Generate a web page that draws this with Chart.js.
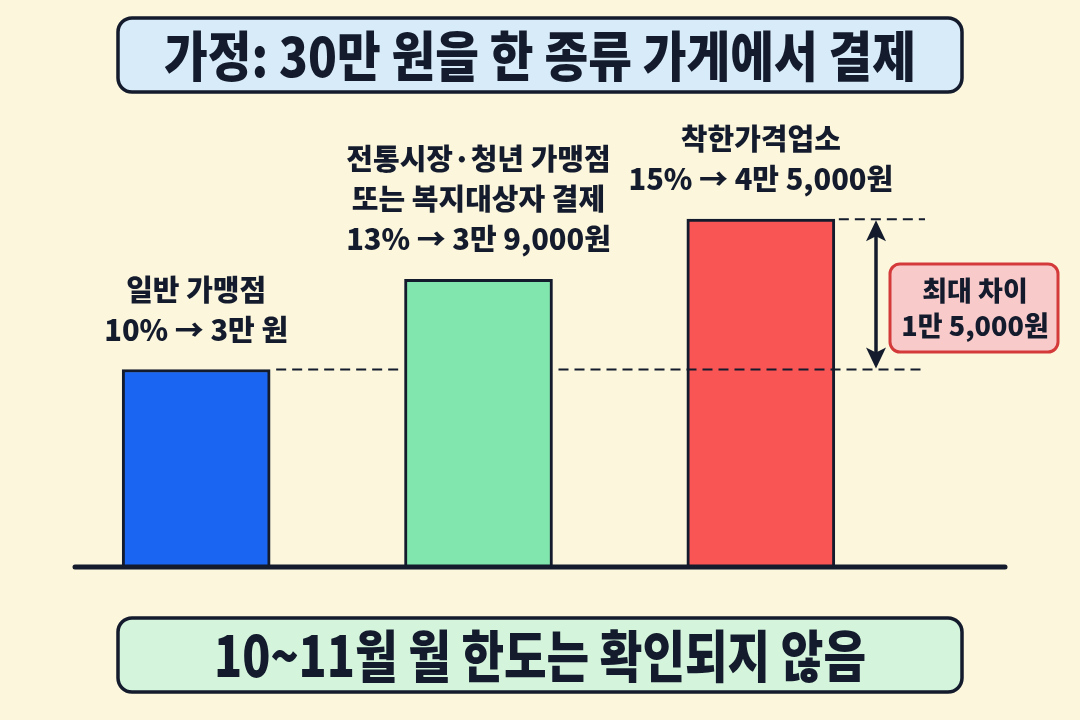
<!DOCTYPE html>
<html>
<head>
<meta charset="utf-8">
<script src="https://cdn.jsdelivr.net/npm/chart.js@4"></script>
<style>
  body { margin: 0; background: #fbf6dc; }
  canvas { display: block; }
</style>
</head>
<body>
<canvas id="chart" width="1080" height="720"></canvas>
<script>
// data (amounts in won, on a 30만 원 spend)
const categories = ['일반 가맹점', '전통시장·청년 가맹점 또는 복지대상자 결제', '착한가격업소'];
const labelLines = [
    ['일반 가맹점', '10% → 3만 원'],
    ['전통시장·청년 가맹점', '또는 복지대상자 결제', '13% → 3만 9,000원'],
    ['착한가격업소', '15% → 4만 5,000원']
];
const rates = [10, 13, 15];
const amounts = [30000, 39000, 45000];
const barColors = ['#1a66f2', '#80e6ad', '#fa5555'];

const titleText = '가정: 30만 원을 한 종류 가게에서 결제';
const footText = '10~11월 월 한도는 확인되지 않음';
const diffLines = ['최대 차이', '1만 5,000원'];

const ink = '#131b2c';
const fontName = "'Noto Sans CJK KR', 'Noto Sans', sans-serif";

function roundBox(ctx, x, y, w, h, r, fill, stroke, lw) {
    ctx.beginPath();
    ctx.roundRect(x, y, w, h, r);
    ctx.fillStyle = fill;
    ctx.fill();
    ctx.lineWidth = lw;
    ctx.strokeStyle = stroke;
    ctx.stroke();
}

const backgroundPlugin = {
    id: 'bg',
    beforeDraw(chart) {
        const ctx = chart.ctx;
        ctx.save();
        ctx.fillStyle = '#fbf6dc';
        ctx.fillRect(0, 0, chart.width, chart.height);
        ctx.restore();
    }
};

const decorPlugin = {
    id: 'decor',
    afterDatasetsDraw(chart) {
        const ctx = chart.ctx;
        const yScale = chart.scales.y;
        const bars = chart.getDatasetMeta(0).data;
        const area = chart.chartArea;
        ctx.save();

        // title box
        roundBox(ctx, 118, 18, 844, 74, 14, '#d7ebf8', ink, 3.5);
        ctx.fillStyle = ink;
        ctx.textAlign = 'center';
        ctx.textBaseline = 'middle';
        ctx.font = '900 54px ' + fontName;
        ctx.fillText(titleText, 540, 56, 752);

        // footer box
        roundBox(ctx, 118, 618, 844, 74, 14, '#d4f5dc', ink, 3.5);
        ctx.fillStyle = ink;
        ctx.font = '900 56px ' + fontName;
        ctx.fillText(footText, 540, 656, 652);

        // baseline
        ctx.beginPath();
        ctx.moveTo(75, area.bottom);
        ctx.lineTo(1005, area.bottom);
        ctx.lineWidth = 5;
        ctx.strokeStyle = ink;
        ctx.lineCap = 'round';
        ctx.stroke();
        ctx.lineCap = 'butt';

        // labels above bars
        ctx.font = '900 29px ' + fontName;
        ctx.fillStyle = ink;
        bars.forEach((bar, i) => {
            const lines = labelLines[i];
            lines.forEach((line, j) => {
                const y = bar.y - 40 - (lines.length - 1 - j) * 40;
                ctx.fillText(line, bar.x, y);
            });
        });

        // dashed reference lines
        const yLow = yScale.getPixelForValue(amounts[0]);
        const yHigh = yScale.getPixelForValue(amounts[2]);
        const half = bars[0].width / 2;
        ctx.setLineDash([10, 6]);
        ctx.lineWidth = 2;
        ctx.strokeStyle = ink;
        ctx.beginPath();
        ctx.moveTo(bars[0].x + half + 6, yLow);
        ctx.lineTo(bars[1].x - half - 4, yLow);
        ctx.moveTo(bars[1].x + half + 6, yLow);
        ctx.lineTo(925, yLow);
        ctx.moveTo(bars[2].x + half + 4, yHigh);
        ctx.lineTo(925, yHigh);
        ctx.stroke();
        ctx.setLineDash([]);

        // double arrow
        const ax = 876;
        ctx.lineWidth = 3.5;
        ctx.beginPath();
        ctx.moveTo(ax, yHigh + 12);
        ctx.lineTo(ax, yLow - 12);
        ctx.stroke();
        ctx.fillStyle = ink;
        ctx.beginPath();
        ctx.moveTo(ax, yHigh + 1);
        ctx.lineTo(ax - 10, yHigh + 22);
        ctx.lineTo(ax, yHigh + 17);
        ctx.lineTo(ax + 10, yHigh + 22);
        ctx.closePath();
        ctx.fill();
        ctx.beginPath();
        ctx.moveTo(ax, yLow - 1);
        ctx.lineTo(ax - 10, yLow - 22);
        ctx.lineTo(ax, yLow - 17);
        ctx.lineTo(ax + 10, yLow - 22);
        ctx.closePath();
        ctx.fill();

        // difference box
        roundBox(ctx, 890, 264, 168, 88, 10, '#f9caca', '#d43a3a', 3);
        ctx.fillStyle = ink;
        ctx.font = '900 27px ' + fontName;
        ctx.fillText(diffLines[0], 975, 291);
        ctx.fillText(diffLines[1], 975, 326);

        ctx.restore();
    }
};

new Chart(document.getElementById('chart'), {
    type: 'bar',
    data: {
        labels: categories,
        datasets: [{
            label: '환급액',
            data: amounts,
            backgroundColor: barColors,
            borderColor: ink,
            borderWidth: 3,
            borderSkipped: false,
            barThickness: 148
        }]
    },
    options: {
        responsive: false,
        animation: false,
        layout: { padding: { left: 55, right: 178, top: 169, bottom: 153 } },
        scales: {
            x: { display: false },
            y: { display: false, min: 10300, max: 50000 }
        },
        plugins: {
            legend: { display: false },
            tooltip: { enabled: false },
            title: { display: false }
        }
    },
    plugins: [backgroundPlugin, decorPlugin]
});
</script>
</body>
</html>
